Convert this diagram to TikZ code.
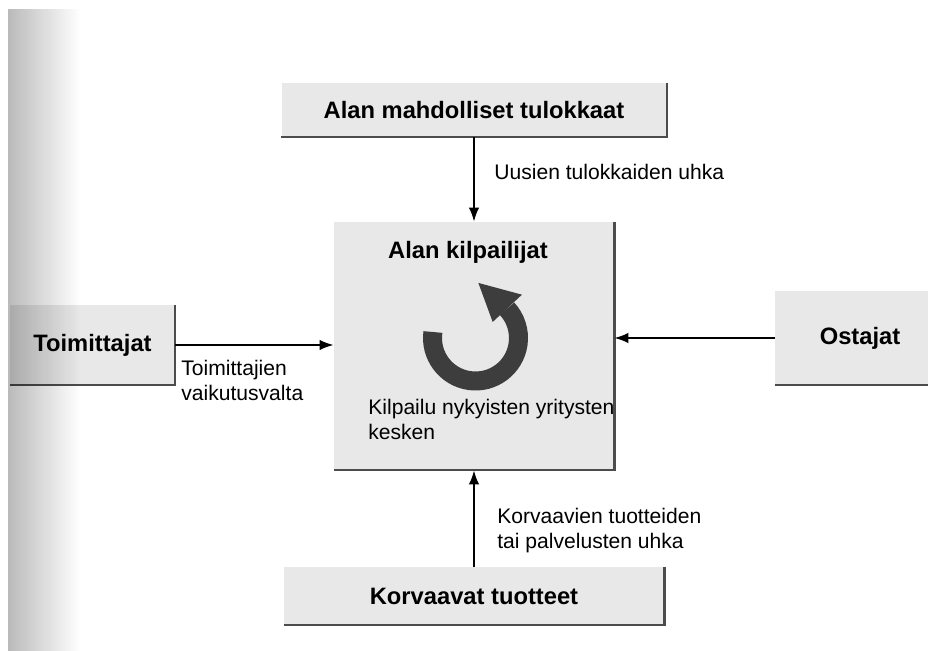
\documentclass[tikz,border=0pt]{standalone}
\usepackage{fontspec}
\setmainfont{Liberation Sans}
\usetikzlibrary{arrows.meta,calc}
\definecolor{boxgray}{gray}{0.91}
\definecolor{edgegray}{gray}{0.3}
\definecolor{turngray}{gray}{0.24}
\newcommand{\titlefont}{\fontsize{13.5}{16}\selectfont\bfseries}
\newcommand{\notefont}{\fontsize{12}{14.2}\selectfont}

\begin{document}
\begin{tikzpicture}[auto, >={Latex[length=8pt,width=6pt]},
    force/.style={fill=boxgray, inner sep=0pt, font=\titlefont},
    edge/.style={draw=edgegray, line width=1.3pt},
    push/.style={->, line width=1.1pt},
    note/.style={font=\notefont, align=left, anchor=west, inner sep=0pt}]
      \useasboundingbox (0,0) rectangle (18.56,13.02);
      \node[force, minimum width=7.7cm, minimum height=1.08cm] (entrants) at (9.48, 10.82) {Alan mahdolliset tulokkaat};
      \node[force, minimum width=5.6cm, minimum height=4.96cm] (rivals) at (9.48, 6.1) {};
      \node[force, minimum width=3.3cm, minimum height=1.6cm] (suppliers) at (1.85, 6.12) {Toimittajat};
      \node[force, minimum width=3.4cm, minimum height=1.86cm] (buyers) at (17.2, 6.26) {Ostajat};
      \node[force, minimum width=7.6cm, minimum height=1.16cm] (substitutes) at (9.48, 1.1) {Korvaavat tuotteet};
      \draw[edge] (entrants.north east) -- (entrants.south east) -- (entrants.south west);
      \draw[edge] (rivals.north east) -- (rivals.south east) -- (rivals.south west);
      \draw[edge] (suppliers.north east) -- (suppliers.south east) -- (suppliers.south west);
      \draw[edge] (buyers.south east) -- (buyers.south west);
      \draw[edge] (substitutes.north east) -- (substitutes.south east) -- (substitutes.south west);
      % scanned page edge
      \shade[left color=black!27, right color=white, blend mode=multiply] (0.16,0) rectangle (1.6,12.82);
      \node[font=\titlefont] (rivalstitle) at (9.36, 7.98) {Alan kilpailijat};
      \node[note] (rivalry) at (7.36, 4.64) {Kilpailu nykyisten yritysten\\kesken};
      \coordinate (turn) at (9.51, 6.26);
      \draw[turngray, line width=0.38cm] (turn) ++(172:0.86) arc[start angle=172, end angle=403, radius=0.86];
      \fill[turngray] ($(turn)+(43:1.27)$) -- ($(turn)+(43:0.47)$) -- ($(turn)+(43:0.86)+(138:0.77)$) -- cycle;
      \node[note] (entrythreat) at (9.88, 9.58) {Uusien tulokkaiden uhka};
      \node[note] (supplierpower) at (3.62, 5.42) {Toimittajien\\vaikutusvalta};
      \node[note] (substthreat) at (9.94, 2.4) {Korvaavien tuotteiden\\tai palvelusten uhka};
      \draw[push] (entrants) to (rivals);
      \draw[push] (substitutes) to (rivals);
      \draw[push] (suppliers.east) to (suppliers.east -| rivals.west);
      \draw[push] (buyers.west) to (buyers.west -| rivals.east);
    \end{tikzpicture}
\end{document}
